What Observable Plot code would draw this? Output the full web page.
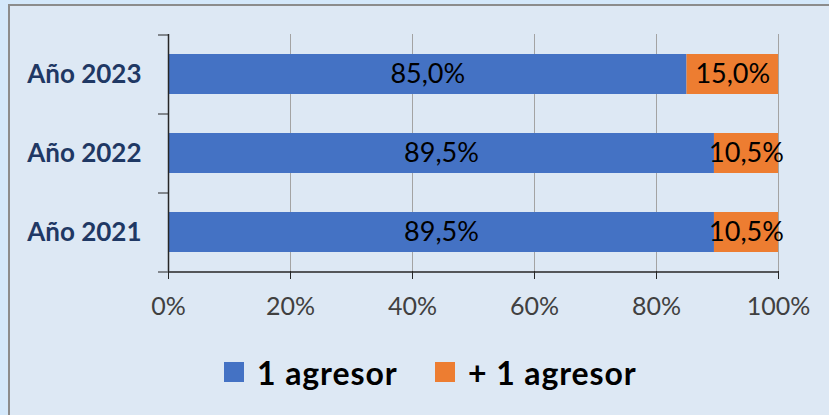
<!DOCTYPE html>
<html>
<head>
<meta charset="utf-8">
<script src="https://cdn.jsdelivr.net/npm/d3@7"></script>
<script src="https://cdn.jsdelivr.net/npm/@observablehq/plot@0.6"></script>
<style>
  html, body { margin: 0; padding: 0; }
  body { width: 829px; height: 415px; background: #d4e8fa; overflow: hidden; font-family: Lato, "Noto Sans", sans-serif; }
  #wrap { position: relative; width: 829px; height: 415px; }
  #frame { position: absolute; left: 8px; top: 4px; width: 821px; height: 411px; background: #dde8f4; border-left: 2px solid #8c8c8c; border-top: 2px solid #8c8c8c; box-sizing: border-box; }
  #chart { position: absolute; left: 0; top: 0; }
  #legend { position: absolute; left: 0; top: 354px; width: 829px; height: 36px; }
  .item { position: absolute; top: 0; display: flex; align-items: center; height: 36px; font-weight: 700; font-size: 32px; letter-spacing: 0.9px; color: #000; }
  .sw { width: 20px; height: 20px; margin-right: 13px; }
</style>
</head>
<body>
<div id="wrap">
  <div id="frame"></div>
  <div id="chart"></div>
  <div id="legend"></div>
</div>
<script>
const years = ["Año 2023", "Año 2022", "Año 2021"];
const series = ["1 agresor", "+ 1 agresor"];
const unAgresor = [85.0, 89.5, 89.5];
const masDeUnAgresor = [15.0, 10.5, 10.5];
const xTicks = [0, 20, 40, 60, 80, 100];
const colors = ["#4472c4", "#ed7d31"];

const data = [];
years.forEach((y, i) => {
  data.push({year: y, series: series[0], value: unAgresor[i]});
  data.push({year: y, series: series[1], value: masDeUnAgresor[i]});
});

const fmt = v => v.toFixed(1).replace(".", ",") + "%";

const W = 829, H = 340;
const mTop = 34, mBottom = 69;
const step = (H - mTop - mBottom) / 3;

const plot = Plot.plot({
  width: W,
  height: H,
  marginLeft: 168,
  marginRight: 51,
  marginTop: mTop,
  marginBottom: mBottom,
  style: {background: "transparent", fontFamily: "Lato, 'Noto Sans', sans-serif", overflow: "visible"},
  x: {domain: [0, 100], ticks: xTicks, label: null},
  y: {domain: years, paddingInner: 0.5, paddingOuter: 0.25, label: null},
  color: {domain: series, range: colors},
  marks: [
    Plot.gridX(xTicks, {stroke: "#a3a3a3", strokeOpacity: 1, strokeWidth: 1}),
    Plot.barX(data, Plot.stackX({x: "value", y: "year", fill: "series", order: series})),
    Plot.text(data, Plot.stackX({x: "value", y: "year", z: "series", order: series, text: d => fmt(d.value), fill: "#000", fontSize: 27})),
    Plot.ruleX([0], {stroke: "#262626", strokeWidth: 1.5}),
    Plot.ruleY([years[2]], {y: d => d, x1: 0, x2: 100, dy: step / 2, stroke: "#262626", strokeWidth: 1.5}),
    Plot.axisX({ticks: xTicks, tickSize: 8, tickPadding: 18, tickFormat: d => d + "%", fontSize: 25, color: "#404040", stroke: "#262626"}),
    Plot.axisY({tickSize: 0, tickPadding: 27, fontSize: 26, fontWeight: "bold", color: "#1f3864"}),
    Plot.axisY(years, {tickSize: 10, tickFormat: () => "", dy: -step / 2, stroke: "#262626"}),
    Plot.axisY([years[2]], {tickSize: 10, tickFormat: () => "", dy: step / 2, stroke: "#262626"})
  ]
});
document.getElementById("chart").appendChild(plot);

const legend = document.getElementById("legend");
const lx = [224, 435];
series.forEach((s, i) => {
  const it = document.createElement("div");
  it.className = "item";
  it.style.left = lx[i] + "px";
  const sw = document.createElement("span");
  sw.className = "sw";
  sw.style.background = colors[i];
  const t = document.createElement("span");
  t.textContent = s;
  it.appendChild(sw);
  it.appendChild(t);
  legend.appendChild(it);
});
</script>
</body>
</html>
